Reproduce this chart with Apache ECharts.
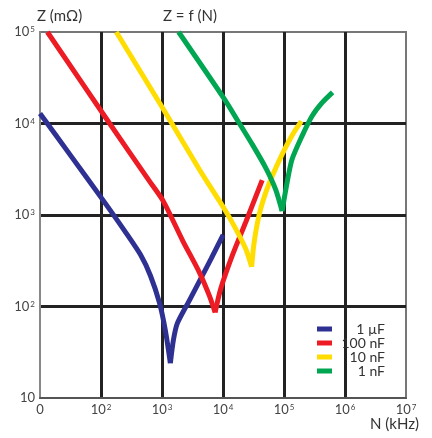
<!DOCTYPE html>
<html><head><meta charset="utf-8">
<script src="https://cdn.jsdelivr.net/npm/echarts@6/dist/echarts.min.js"></script>
<style>html,body{margin:0;padding:0;background:#fff}#c{width:432px;height:438px}</style>
</head><body><div id="c"></div>
<script>
// ---- data (N in kHz, Z in mΩ) ----
const seriesNames = ['1 µF', '100 nF', '10 nF', '1 nF'];
const cap1uF = [[10,12850],[30.8,4600],[105,1490],[244,670],[445,367],[647,217],[907,110],[1135,54.8],[1371,24],[1535,42.7],[1782,65.3],[2800,116],[4074,187],[6397,333],[10050,607]];
const cap100nF = [[13.2,100000],[138.6,10000],[622,2344],[1054,1409],[2178,526],[4074,238],[5929,133],[7430,86],[9200,157],[14220,361],[23540,833],[43950,2400]];
const cap10nF = [[178,100000],[1054,14300],[4074,3160],[10540,1162],[16180,705],[23540,427],[29500,272],[32150,484],[38800,982],[48600,1650],[64000,2650],[93100,4600],[135500,7410],[192800,10600]];
const cap1nF = [[1871,100000],[10420,18700],[18320,10180],[30200,5910],[49900,3300],[72600,1918],[93100,1104],[112400,2266],[135500,4060],[197200,7280],[287100,12000],[418700,16800],[625600,21900]];
const xTickLabels = ['0', '10^2', '10^3', '10^4', '10^5', '10^6', '10^7'];
const yTickLabels = ['10', '10^2', '10^3', '10^4', '10^5'];
const titleY = 'Z (mΩ)';
const titleMain = 'Z = f (N)';
const titleX = 'N (kHz)';

// ---- styles ----
const colors = ['#2e3192', '#ed1c24', '#ffdd00', '#00a651'];
const FONT = 'Lato';
const curves = [cap1uF, cap100nF, cap10nF, cap1nF];

function toRich(s) {
  const p = s.split('^');
  return p.length > 1 ? p[0] + '{s|' + p[1] + '}' : p[0];
}
function minIndex(arr) {
  let k = 0;
  arr.forEach((d, i) => { if (d[1] < arr[k][1]) k = i; });
  return k;
}

const series = [];
curves.forEach((arr, i) => {
  const k = minIndex(arr);
  [arr.slice(0, k + 1), arr.slice(k)].forEach(part => {
    series.push({
      name: seriesNames[i], type: 'line', data: part, smooth: 0.25,
      showSymbol: false, symbol: 'none',
      lineStyle: { color: colors[i], width: 5 }, itemStyle: { color: colors[i] },
      emphasis: { disabled: true }
    });
  });
});

const richSup = { s: { fontSize: 8, verticalAlign: 'top', color: '#444', fontFamily: FONT, padding: [0, 0, 0, 1] } };

const chart = echarts.init(document.getElementById('c'));
chart.setOption({
  animation: false,
  textStyle: { fontFamily: FONT },
  grid: { left: 40, right: 26, top: 32, bottom: 40, show: true, borderColor: '#777', borderWidth: 2 },
  xAxis: {
    type: 'log', logBase: 10, min: 10, max: 1e7,
    axisLine: { show: true, lineStyle: { color: '#555', width: 2 } },
    axisTick: { show: false },
    minorTick: { show: false },
    splitLine: { show: true, showMinLine: false, showMaxLine: false, lineStyle: { color: '#222', width: 3 } },
    axisLabel: {
      margin: 5, fontSize: 13, color: '#444', fontFamily: FONT,
      formatter: v => toRich(xTickLabels[Math.round(Math.log10(v)) - 1] || ''),
      rich: richSup
    }
  },
  yAxis: {
    type: 'log', logBase: 10, min: 10, max: 1e5,
    axisLine: { show: true, lineStyle: { color: '#888', width: 2 } },
    axisTick: { show: false },
    minorTick: { show: false },
    splitLine: { show: true, showMinLine: false, showMaxLine: false, lineStyle: { color: '#222', width: 3 } },
    axisLabel: {
      margin: 5, fontSize: 13, color: '#444', fontFamily: FONT,
      formatter: v => toRich(yTickLabels[Math.round(Math.log10(v)) - 1] || ''),
      rich: richSup
    }
  },
  legend: {
    left: 317, top: 322, padding: 0, orient: 'vertical', itemWidth: 15, itemHeight: 5, itemGap: 0,
    icon: 'rect', data: seriesNames, selectedMode: false,
    formatter: n => '{t|' + n + '}',
    textStyle: { rich: { t: { width: 48, align: 'right', fontSize: 14, lineHeight: 16, color: '#333', fontFamily: FONT } } }
  },
  graphic: [
    { type: 'text', left: 37, top: 9, style: { text: titleY, font: '15px ' + FONT, fill: '#333' } },
    { type: 'text', left: 163, top: 9, style: { text: titleMain, font: '15px ' + FONT, fill: '#333' } },
    { type: 'text', right: 13, top: 417, style: { text: titleX, font: '15px ' + FONT, fill: '#333' } }
  ],
  series: series
});
</script>
</body></html>
